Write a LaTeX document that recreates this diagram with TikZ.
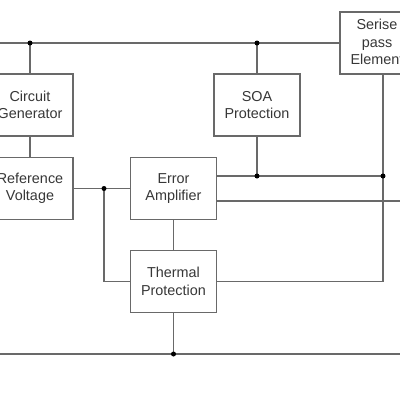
\documentclass[tikz,border=0pt]{standalone}
\usepackage{fontspec}
\setmainfont{Liberation Sans}
\definecolor{linec}{RGB}{105,105,105}
\definecolor{txtc}{RGB}{55,55,55}
\begin{document}
\begin{tikzpicture}[x=1pt,y=-1pt,
  blk/.style={draw=linec, line width=1.2pt, minimum width=86pt, minimum height=62pt,
    inner sep=0pt, align=center, text=txtc, font=\fontsize{14.4}{17.5}\selectfont},
  lbl/.style={inner sep=0pt, align=center, text=txtc, font=\fontsize{14.4}{17.5}\selectfont},
  wire/.style={draw=linec, line width=1.2pt},
  jdot/.style={circle, fill=black, inner sep=0pt, minimum size=5pt}]
\useasboundingbox (0,0) rectangle (400,400);
\clip (0,0) rectangle (400,400);
\fill[white] (0,0) rectangle (400,400);
% blocks
\node[blk] (cg) at (30,105) {Circuit\\Generator};
\node[blk] (rv) at (30,188.5) {Reference\\Voltage};
\node[blk] (ea) at (173.5,188.5) {Error\\Amplifier};
\node[blk] (tp) at (173.5,281.5) {Thermal\\Protection};
\node[blk] (soa) at (257,105) {SOA\\Protection};
\node[blk] (sp) at (383,43) {};
\node[lbl] (spt) at (377,42) {Serise\\pass\\Element};
% junctions
\coordinate (lt) at (0,43);
\coordinate (j1) at (30,43);
\coordinate (j2) at (257,43);
\coordinate (j3) at (104,188.5);
\coordinate (j4) at (257,176);
\coordinate (j5) at (383,176);
\coordinate (j6) at (173.5,354);
\coordinate (lb) at (0,354);
\coordinate (rb) at (400,354);
\coordinate (r1) at (400,201);
% wires
\draw[wire] (lt) -- (sp.west);
\draw[wire] (j1) -- (cg.north);
\draw[wire] (cg.south) -- (rv.north);
\draw[wire] (rv.east) -- (ea.west);
\draw[wire] (j3) |- (tp.west);
\draw[wire] (ea.south) -- (tp.north);
\draw[wire] (tp.south) -- (j6);
\draw[wire] (lb) -- (rb);
\draw[wire] (j2) -- (soa.north);
\draw[wire] (soa.south) -- (j4);
\draw[wire] (ea.east |- j4) -- (j5);
\draw[wire] (sp.south) |- (tp.east);
\draw[wire] (ea.east |- r1) -- (r1);
% dots
\foreach \p in {j1,j2,j3,j4,j5,j6} \node[jdot] at (\p) {};
\end{tikzpicture}
\end{document}
